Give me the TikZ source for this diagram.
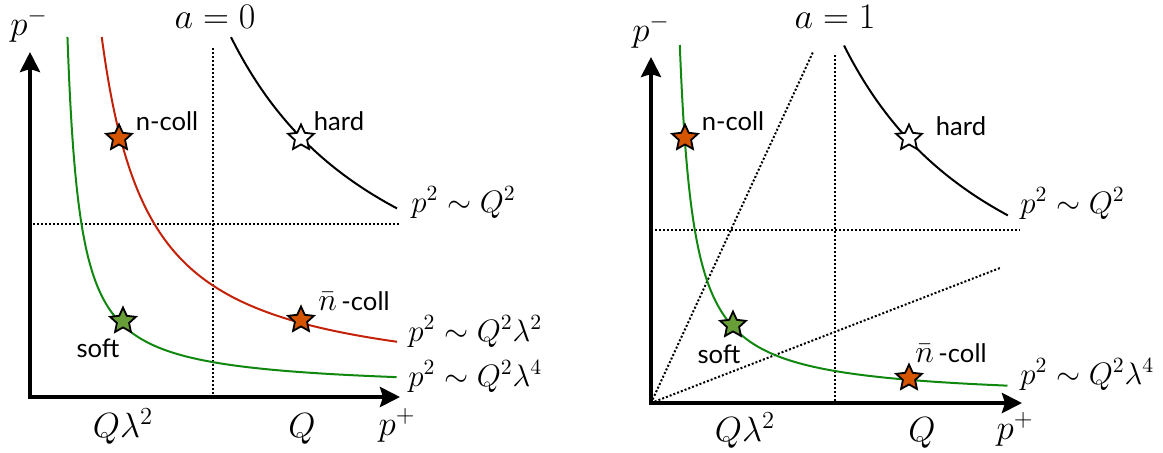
\RequirePackage{fix-cm}
\documentclass[tikz,border=0pt]{standalone}
\usepackage{fontspec}
\setsansfont{Lato}
\usetikzlibrary{arrows.meta,shapes.geometric}
\definecolor{curvered}{RGB}{196,34,8}
\definecolor{curvegreen}{RGB}{16,136,16}
\definecolor{starorange}{RGB}{213,84,0}
\definecolor{stargreen}{RGB}{104,158,56}
\newcommand{\nbar}{{\fontsize{16}{18}\selectfont$\bar n$}}
\begin{document}
\begin{tikzpicture}[x=0.5pt,y=-0.5pt,
  axis/.style={line width=2pt, line join=miter,
    {Stealth[length=10pt,width=10pt,inset=1.5pt]}-{Stealth[length=10pt,width=10pt,inset=1.5pt]}},
  guide/.style={line width=1pt, dash pattern=on 1pt off 1pt},
  curve/.style={line width=1pt},
  mystar/.style={star, star points=5, star point ratio=2.1, minimum size=13.5pt,
    inner sep=0pt, outer sep=0pt, draw=black, line width=0.9pt},
  mathlbl/.style={inner sep=0pt, anchor=base, font=\fontsize{17.5}{20}\selectfont},
  titlelbl/.style={inner sep=0pt, anchor=base, font=\fontsize{18}{20}\selectfont},
  rellbl/.style={inner sep=0pt, anchor=base west, font=\fontsize{15.5}{18}\selectfont},
  wordlbl/.style={inner sep=0pt, anchor=base, font=\sffamily\fontsize{12.8}{15}\selectfont},
]
\useasboundingbox (0,0) rectangle (1163,452);

% ---------------- left panel (a = 0) ----------------
\coordinate (LO) at (30,397);
\coordinate (LY) at (30,52);
\coordinate (LX) at (400,397);
\coordinate (LVt) at (213,48);
\coordinate (LVb) at (213,397);
\coordinate (LHl) at (33,224);
\coordinate (LHr) at (399,224);

\draw[guide] (LVt) -- (LVb);
\draw[guide] (LHl) -- (LHr);

\draw[curve] plot[domain=-0.3478:0.3166, samples=60, variable=\t]
  ({55+249.2*exp(\t)}, {390-249.2*exp(-\t)});
\draw[curve, curvered] plot[domain=-1.0109:0.9793, samples=80, variable=\t]
  ({55+128.45*exp(\t)}, {390-128.45*exp(-\t)});
\draw[curve, curvegreen] plot[domain=-1.672:1.640, samples=100, variable=\t]
  ({55+66.33*exp(\t)}, {390-66.33*exp(-\t)});

\draw[axis] (LY) -- (LO) -- (LX);

\node[mystar, fill=starorange] (LnS) at (119,138) {};
\node[mystar, fill=white] (LhS) at (301,138) {};
\node[mystar, fill=starorange] (LbS) at (301,320) {};
\node[mystar, fill=stargreen] (LsS) at (123,321) {};

\node[mathlbl] (Lpm) at (29,35) {$p^-$};
\node[titlelbl] (La) at (215,28) {$a=0$};
\node[mathlbl] (LQl) at (123,437) {$Q\lambda^2$};
\node[mathlbl] (LQ) at (302,437) {$Q$};
\node[mathlbl] (Lpp) at (397,435) {$p^+$};
\node[rellbl] (Lr1) at (411,212) {$p^2\sim Q^2$};
\node[rellbl] (Lr2) at (408,341) {$p^2\sim Q^2\lambda^2$};
\node[rellbl] (Lr3) at (408,386) {$p^2\sim Q^2\lambda^4$};
\node[wordlbl] (Ln) at (167,130) {n-coll};
\node[wordlbl] (Lh) at (339,130) {hard};
\node[wordlbl] (Lb) at (354,310) {\nbar\,-coll};
\node[wordlbl] (Ls) at (98,357) {soft};

% ---------------- right panel (a = 1) ----------------
\coordinate (RO) at (651,403);
\coordinate (RY) at (651,57);
\coordinate (RX) at (1022,403);
\coordinate (RVt) at (835,55);
\coordinate (RVb) at (835,403);
\coordinate (RHl) at (655,230);
\coordinate (RHr) at (1020,230);
\coordinate (RD1) at (813,52);
\coordinate (RD2) at (1000,268);

\draw[guide] (RVt) -- (RVb);
\draw[guide] (RHl) -- (RHr);
\draw[guide] (RO) -- (RD1);
\draw[guide] (RO) -- (RD2);

\draw[curve] plot[domain=-0.3445:0.3086, samples=60, variable=\t]
  ({666+251.2*exp(\t)}, {400-251.2*exp(-\t)});
\draw[curve, curvegreen] plot[domain=-1.6237:1.5863, samples=100, variable=\t]
  ({666+70*exp(\t)}, {400-70*exp(-\t)});

\draw[axis] (RY) -- (RO) -- (RX);

\node[mystar, fill=starorange] (RnS) at (685,138) {};
\node[mystar, fill=white] (RhS) at (909,138) {};
\node[mystar, fill=stargreen] (RsS) at (733,325) {};
\node[mystar, fill=starorange] (RbS) at (909,378) {};

\node[mathlbl] (Rpm) at (651,41) {$p^-$};
\node[titlelbl] (Ra) at (835,28) {$a=1$};
\node[mathlbl] (RQl) at (745,441) {$Q\lambda^2$};
\node[mathlbl] (RQ) at (922,441) {$Q$};
\node[mathlbl] (Rpp) at (1015,439) {$p^+$};
\node[rellbl] (Rr1) at (1020,213) {$p^2\sim Q^2$};
\node[rellbl] (Rr3) at (1020,384) {$p^2\sim Q^2\lambda^4$};
\node[wordlbl] (Rn) at (733,130) {n-coll};
\node[wordlbl] (Rh) at (961,135) {hard};
\node[wordlbl] (Rb) at (951,362) {\nbar\,-coll};
\node[wordlbl] (Rs) at (719,363) {soft};
\end{tikzpicture}
\end{document}
